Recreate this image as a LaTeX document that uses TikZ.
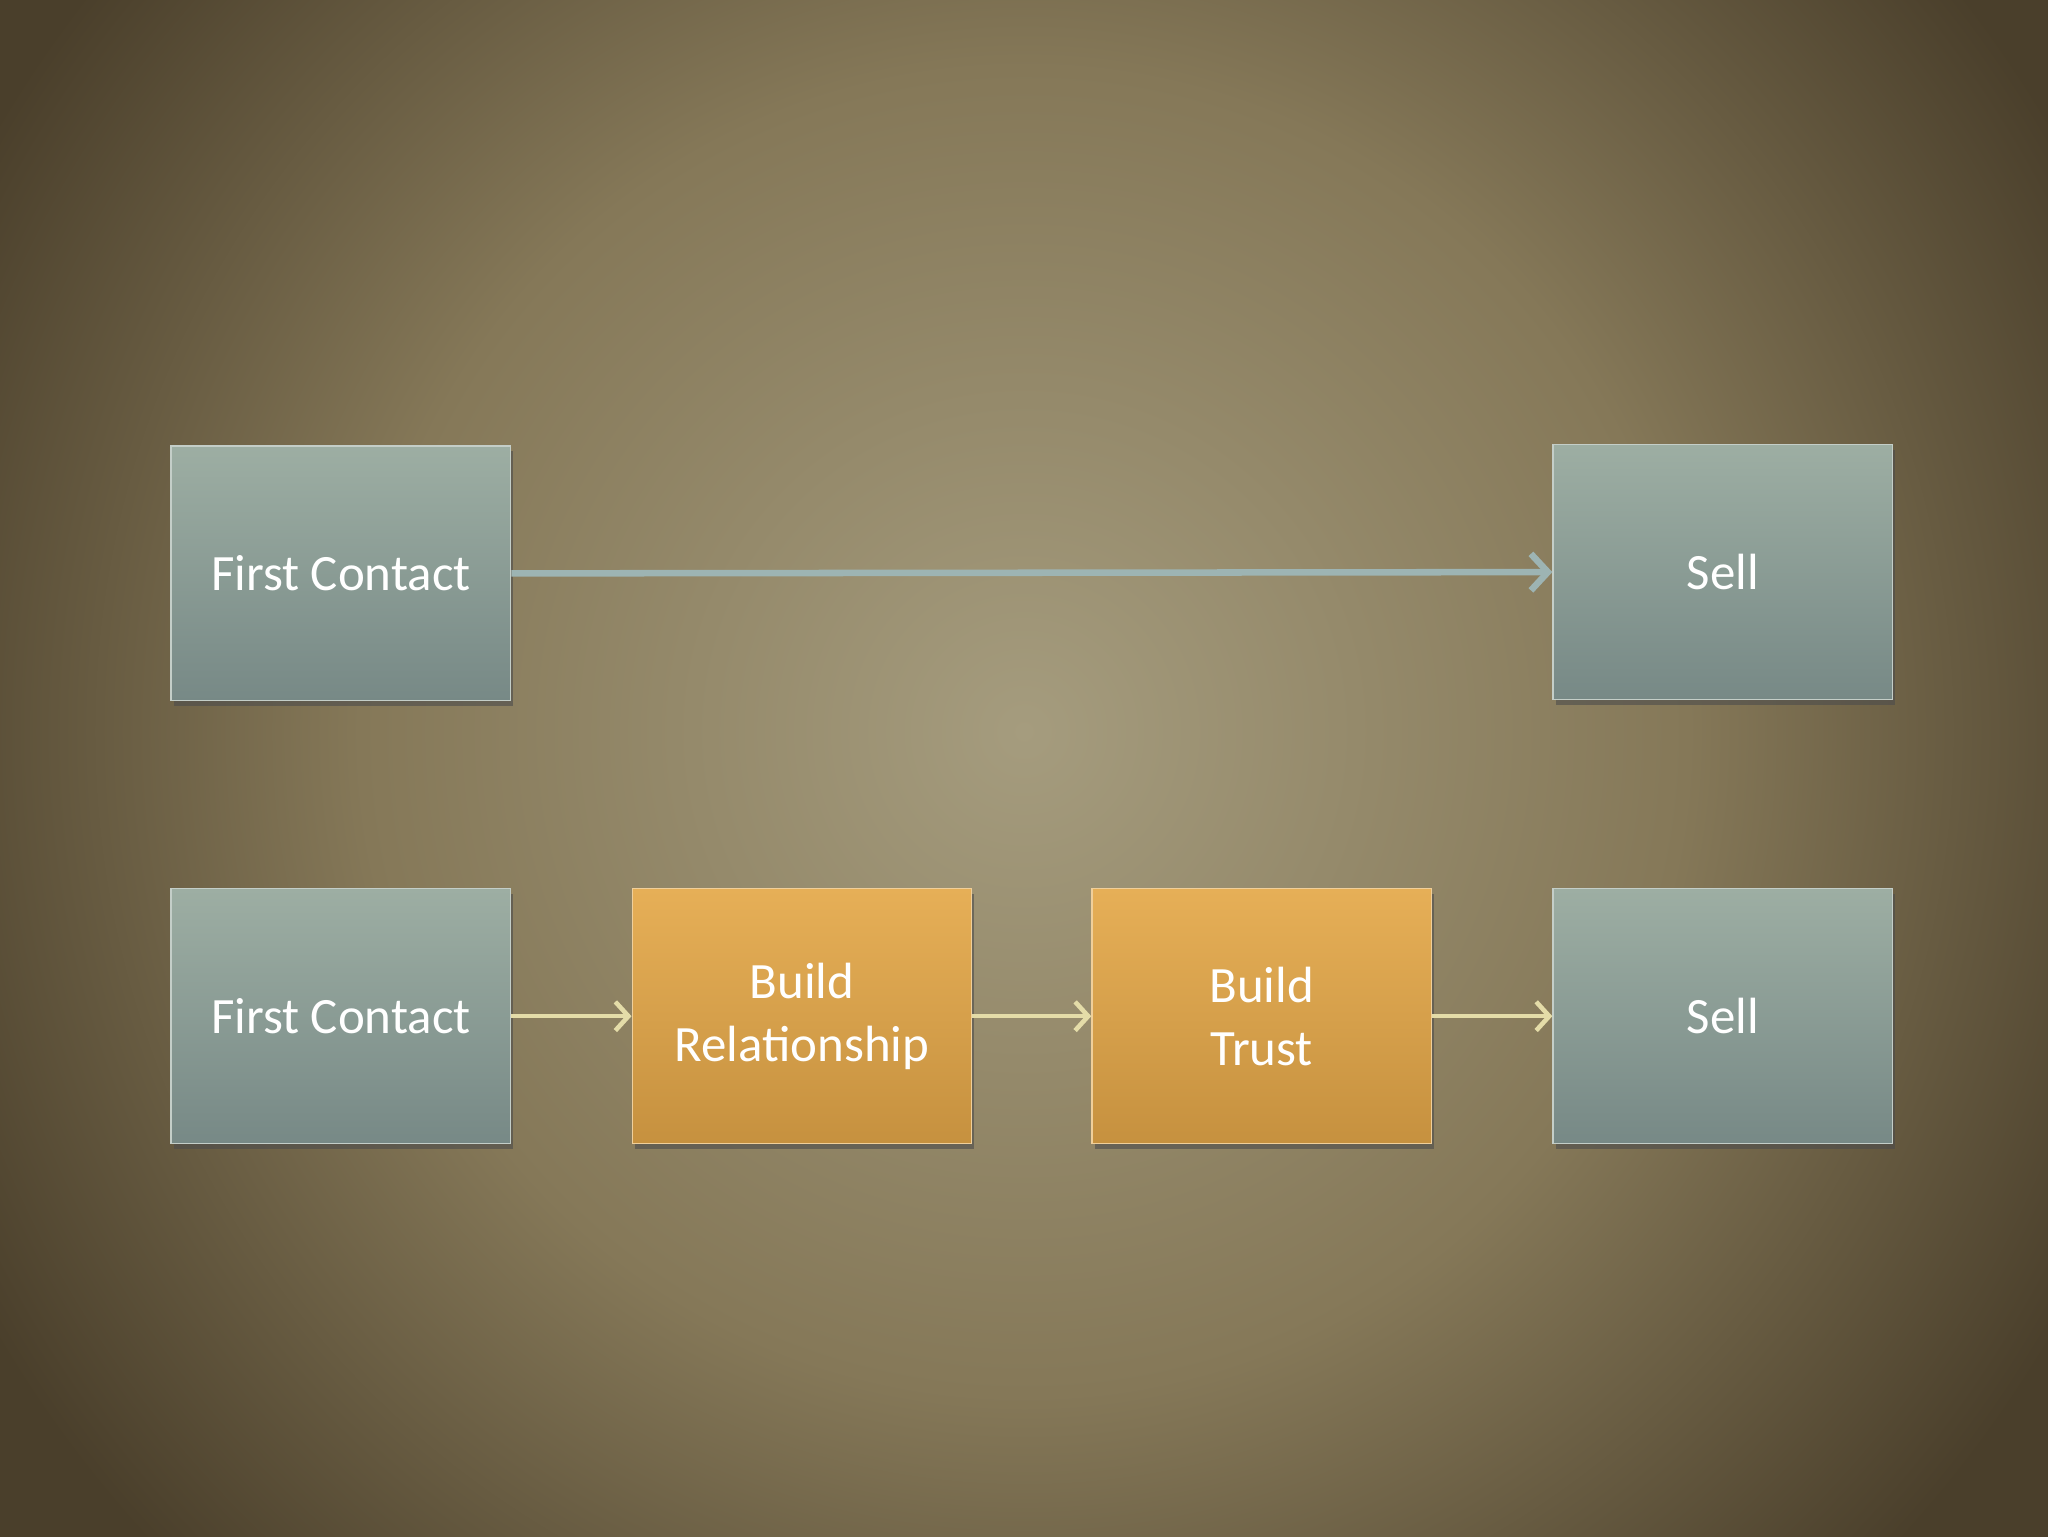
\documentclass[tikz,border=0pt]{standalone}
\usepackage{fontspec}
\setmainfont{Carlito}
\usetikzlibrary{arrows.meta,shadows}
\definecolor{bgin}{HTML}{A59C7E}
\definecolor{bgmid}{HTML}{857858}
\definecolor{bgout}{HTML}{4A3F2B}
\definecolor{gtop}{HTML}{9DAEA3}
\definecolor{gbot}{HTML}{778986}
\definecolor{otop}{HTML}{E6AF57}
\definecolor{obot}{HTML}{C6913F}
\definecolor{arrA}{HTML}{9DB4B3}
\definecolor{arrB}{HTML}{E4DCA8}
\pgfdeclareradialshading{bgshade}{\pgfpoint{0bp}{0bp}}{color(0bp)=(bgin); color(10bp)=(bgmid); color(18bp)=(bgout); color(50bp)=(bgout)}
\tikzset{
 box/.style={minimum width=260pt,minimum height=195pt,align=center,text=white,
   font=\fontsize{39pt}{48pt}\selectfont,draw=#1!60!white,line width=1pt,
   drop shadow={shadow xshift=2pt,shadow yshift=-4pt,opacity=0.6,fill=black!70}},
 gbox/.style={box=gtop,top color=gtop,bottom color=gbot},
 obox/.style={box=otop,top color=otop,bottom color=obot},
 conA/.style={draw=arrA,line width=5pt,-{Straight Barb[length=13pt,width=28pt,line width=5pt]}},
 conB/.style={draw=arrB,line width=3pt,-{Straight Barb[length=10pt,width=22pt,line width=3.5pt]}}
}
\begin{document}
\begin{tikzpicture}[x=1pt,y=-1pt]
\begin{scope}
\clip (0,0) rectangle (1568,1176);
\shade[shading=bgshade] (784-1270,560-1270) rectangle (784+1270,560+1270);
\end{scope}
\useasboundingbox (0,0) rectangle (1568,1176);
\node[gbox] (fc1) at (261,439) {First Contact};
\node[gbox] (s1) at (1319,438) {Sell};
\node[gbox] (fc2) at (261,778) {First Contact};
\node[obox] (br) at (614,778) {Build\\Relationship};
\node[obox] (bt) at (966,778) {Build\\Trust};
\node[gbox] (s2) at (1319,778) {Sell};
\draw[conA] (fc1.east) -- (s1.west);
\draw[conB] (fc2.east) -- (br.west);
\draw[conB] (br.east) -- (bt.west);
\draw[conB] (bt.east) -- (s2.west);
\end{tikzpicture}
\end{document}
